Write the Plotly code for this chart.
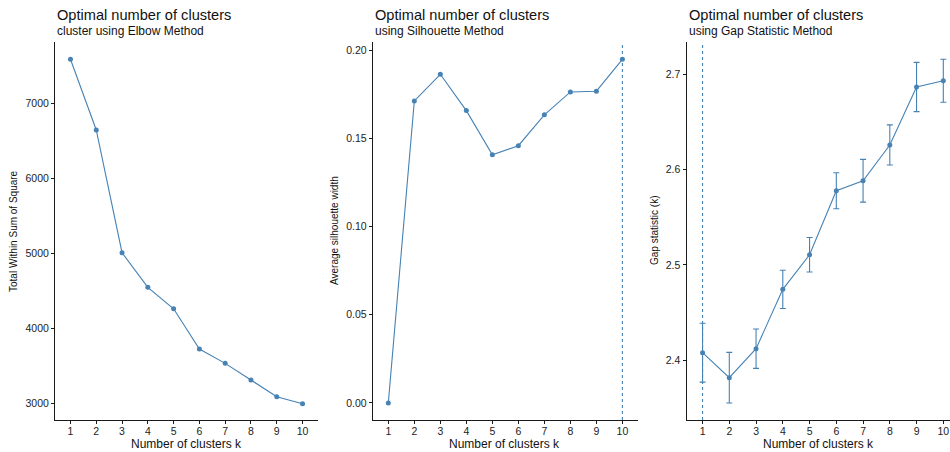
import plotly.graph_objects as go

# ---- data ----
k_values = [1, 2, 3, 4, 5, 6, 7, 8, 9, 10]
wss = [7587, 6644, 5008, 4547, 4261, 3724, 3533, 3311, 3089, 2995]
silhouette = [0.0, 0.1712, 0.1863, 0.1657, 0.1407, 0.1458, 0.1633, 0.1763, 0.1767, 0.1948]
gap = [2.4077, 2.3814, 2.4119, 2.4743, 2.5107, 2.5780, 2.5885, 2.6261, 2.6871, 2.6937]
gap_se = [0.031, 0.0266, 0.0207, 0.0201, 0.0181, 0.0189, 0.0225, 0.0211, 0.0259, 0.0226]
best_k_silhouette = 10
best_k_gap = 1

titles = ["Optimal number of clusters"] * 3
subtitles = ["cluster using Elbow Method", "using Silhouette Method", "using Gap Statistic Method"]
y_titles = ["Total Within Sum of Square", "Average silhouette width", "Gap statistic (k)"]
x_title = "Number of clusters k"

W, H = 950, 452
COLOR = "#4682B4"
FONT = "Liberation Sans, Arial, sans-serif"

def px_x(p):
    return p / W

def px_y(p):
    return 1 - p / H

fig = go.Figure()

fig.add_trace(go.Scatter(x=k_values, y=wss, mode="lines+markers",
                         line=dict(color=COLOR, width=1.1),
                         marker=dict(color=COLOR, size=5),
                         xaxis="x", yaxis="y", showlegend=False))
fig.add_trace(go.Scatter(x=k_values, y=silhouette, mode="lines+markers",
                         line=dict(color=COLOR, width=1.1),
                         marker=dict(color=COLOR, size=5),
                         xaxis="x2", yaxis="y2", showlegend=False))
fig.add_trace(go.Scatter(x=k_values, y=gap, mode="lines+markers",
                         line=dict(color=COLOR, width=1.1),
                         marker=dict(color=COLOR, size=5),
                         error_y=dict(type="data", array=gap_se, visible=True,
                                      color=COLOR, thickness=1.1, width=3),
                         xaxis="x3", yaxis="y3", showlegend=False))

# panel geometry in page pixels (left, right)
panels = [(55, 318), (372.7, 638), (686.5, 950)]
top_px, bottom_px = 42, 420
x_ranges = [[0.4, 10.6], [0.4, 10.6], [0.4, 10.25]]
y_ranges = [[2778, 7817], [-0.0097, 0.2046], [2.3369, 2.7344]]
y_ticks = [[3000, 4000, 5000, 6000, 7000],
           [0.0, 0.05, 0.10, 0.15, 0.20],
           [2.4, 2.5, 2.6, 2.7]]
y_ticktext = [["3000", "4000", "5000", "6000", "7000"],
              ["0.00", "0.05", "0.10", "0.15", "0.20"],
              ["2.4", "2.5", "2.6", "2.7"]]

axis_common = dict(showgrid=False, zeroline=False, showline=True, linecolor="#1a1a1a",
                   linewidth=1, ticks="outside", ticklen=3, tickcolor="#1a1a1a",
                   tickfont=dict(family=FONT, size=10.5, color="#222"))

layout = dict(width=W, height=H, margin=dict(l=0, r=0, t=0, b=0),
              plot_bgcolor="white", paper_bgcolor="white",
              font=dict(family=FONT), showlegend=False)

annotations = []
for i, (l, r) in enumerate(panels):
    sx = "" if i == 0 else str(i + 1)
    layout["xaxis" + sx] = dict(domain=[px_x(l), min(1.0, px_x(r))], range=x_ranges[i],
                                tickmode="array", tickvals=k_values,
                                ticktext=[str(k) for k in k_values],
                                ticklabelstandoff=-2,
                                anchor="y" + sx, **axis_common)
    layout["yaxis" + sx] = dict(domain=[px_y(bottom_px), px_y(top_px)], range=y_ranges[i],
                                tickmode="array", tickvals=y_ticks[i], ticktext=y_ticktext[i],
                                anchor="x" + sx, **axis_common)
    annotations.append(dict(text=titles[i], x=px_x(l), y=px_y(15), xref="paper", yref="paper",
                            xanchor="left", yanchor="middle", showarrow=False,
                            font=dict(family=FONT, size=14.6, color="#111")))
    annotations.append(dict(text=subtitles[i], x=px_x(l), y=px_y(31), xref="paper", yref="paper",
                            xanchor="left", yanchor="middle", showarrow=False,
                            font=dict(family=FONT, size=12, color="#111")))
    annotations.append(dict(text=x_title, x=px_x((l + min(r, l + 263)) / 2), y=px_y(444),
                            xref="paper", yref="paper", xanchor="center", yanchor="middle",
                            showarrow=False, font=dict(family=FONT, size=12, color="#111")))

y_title_x = [14, 335, 655]
for i, xt in enumerate(y_title_x):
    annotations.append(dict(text=y_titles[i], x=px_x(xt), y=px_y((top_px + bottom_px) / 2),
                            xref="paper", yref="paper", xanchor="center", yanchor="middle",
                            textangle=-90, showarrow=False,
                            font=dict(family=FONT, size=10, color="#111")))

layout["annotations"] = annotations
layout["shapes"] = [
    dict(type="line", xref="x2", yref="y2 domain", x0=best_k_silhouette, x1=best_k_silhouette,
         y0=0, y1=1, line=dict(color=COLOR, width=1.1, dash="3px,3px")),
    dict(type="line", xref="x3", yref="y3 domain", x0=best_k_gap, x1=best_k_gap,
         y0=0, y1=1, line=dict(color=COLOR, width=1.1, dash="3px,3px")),
]

fig.update_layout(**layout)
fig.write_html("out.html", config={"displayModeBar": False},
               post_script="document.body.style.margin='0';document.body.style.overflow='hidden';")
